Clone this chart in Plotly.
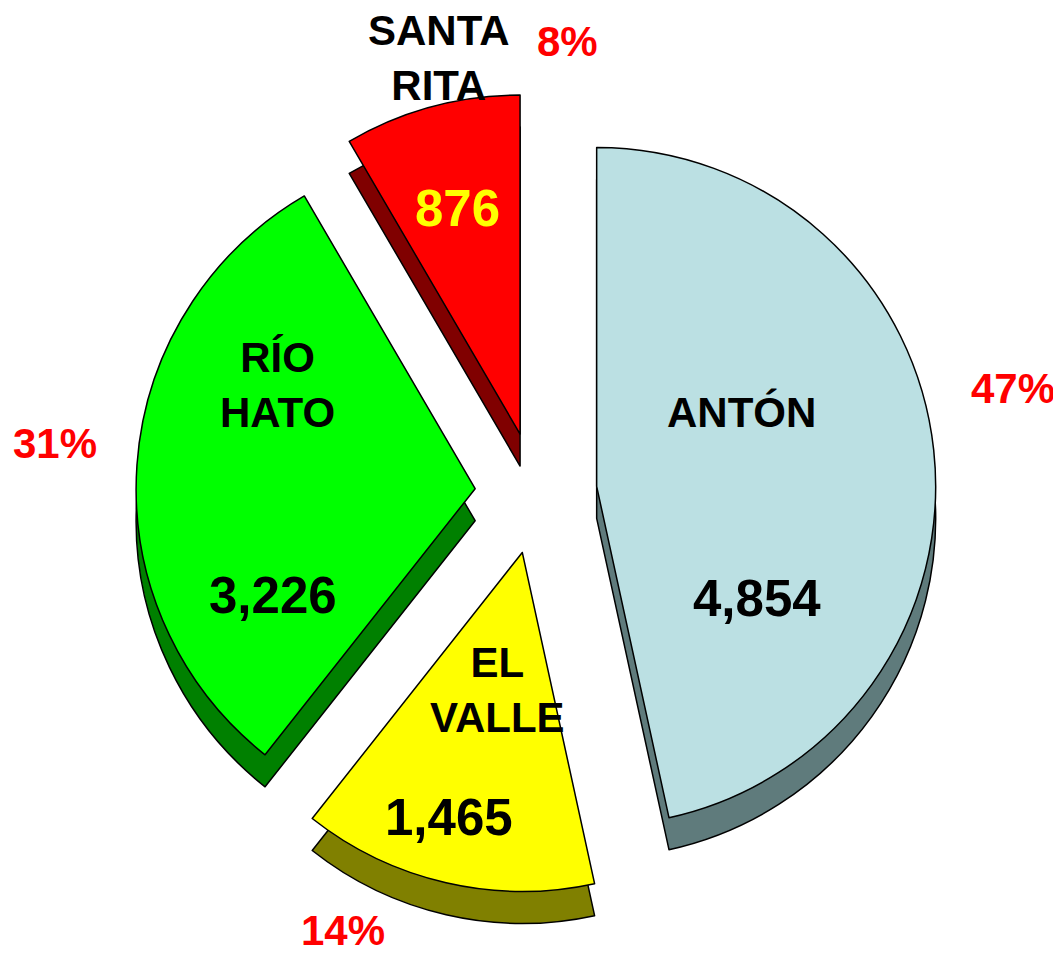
import plotly.graph_objects as go

# ---- data ----
names = ["ANTÓN", "EL VALLE", "RÍO HATO", "SANTA RITA"]
values = [4854, 1465, 3226, 876]
top_colors = ["#BBE0E3", "#FFFF00", "#00FF00", "#FF0000"]
side_colors = ["#5F7B7C", "#808000", "#008000", "#800000"]
value_text_colors = ["#000000", "#000000", "#000000", "#FFFF00"]

W, H = 1061, 956
OFF = 8   # page body margin offset
total = sum(values)
pcts = [f"{round(v / total * 100)}%" for v in values]

# ---- layout geometry (pixels, window coordinates) ----
cx, cy = 536 - OFF, 493 - OFF   # pie centre
r = 339                         # radius
pull = 0.18
depth = 32                      # 3D thickness
half = r * (1 + pull)

def dom(dy=0):
    return dict(
        x=[(cx - half) / W, (cx + half) / W],
        y=[(H - (cy + dy) - half) / H, (H - (cy + dy) + half) / H],
    )

common = dict(
    labels=names, values=values, sort=False, direction="clockwise",
    rotation=0, pull=[pull] * len(values), textinfo="none",
    hoverinfo="label+value+percent", showlegend=False,
)

fig = go.Figure()
fig.add_trace(go.Pie(**common, domain=dom(depth),
                     marker=dict(colors=side_colors, line=dict(color="black", width=1.5))))
fig.add_trace(go.Pie(**common, domain=dom(0),
                     marker=dict(colors=top_colors, line=dict(color="black", width=1.5))))

# label positions (pixels, window coordinates)
name_pos = [(741, 412), (497, 690), (277, 385), (439, 58)]
value_pos = [(757, 598), (449, 817), (273, 595), (457, 208)]
pct_pos = [(1013, 388), (343, 930), (55, 443), (567, 42)]

FONT = "Liberation Sans, Arial, sans-serif"

def px(p):
    return (p[0] - OFF) / W, 1 - (p[1] - OFF) / H

ann = []
for i in range(len(names)):
    x, y = px(name_pos[i])
    ann.append(dict(x=x, y=y,
                    text="<b>" + names[i].replace(" ", "<br>") + "</b>",
                    font=dict(family=FONT, size=42, color="black")))
    x, y = px(value_pos[i])
    ann.append(dict(x=x, y=y, text=f"<b>{values[i]:,}</b>",
                    font=dict(family=FONT, size=51, color=value_text_colors[i])))
    x, y = px(pct_pos[i])
    ann.append(dict(x=x, y=y, text=f"<b>{pcts[i]}</b>",
                    font=dict(family=FONT, size=42, color="#FF0000")))
for a in ann:
    a.update(xref="paper", yref="paper", showarrow=False, borderpad=0,
             xanchor="center", yanchor="middle")

fig.update_layout(
    width=W, height=H, margin=dict(l=0, r=0, t=0, b=0),
    paper_bgcolor="white", plot_bgcolor="white",
    annotations=ann,
)

fig.write_html("out.html")
